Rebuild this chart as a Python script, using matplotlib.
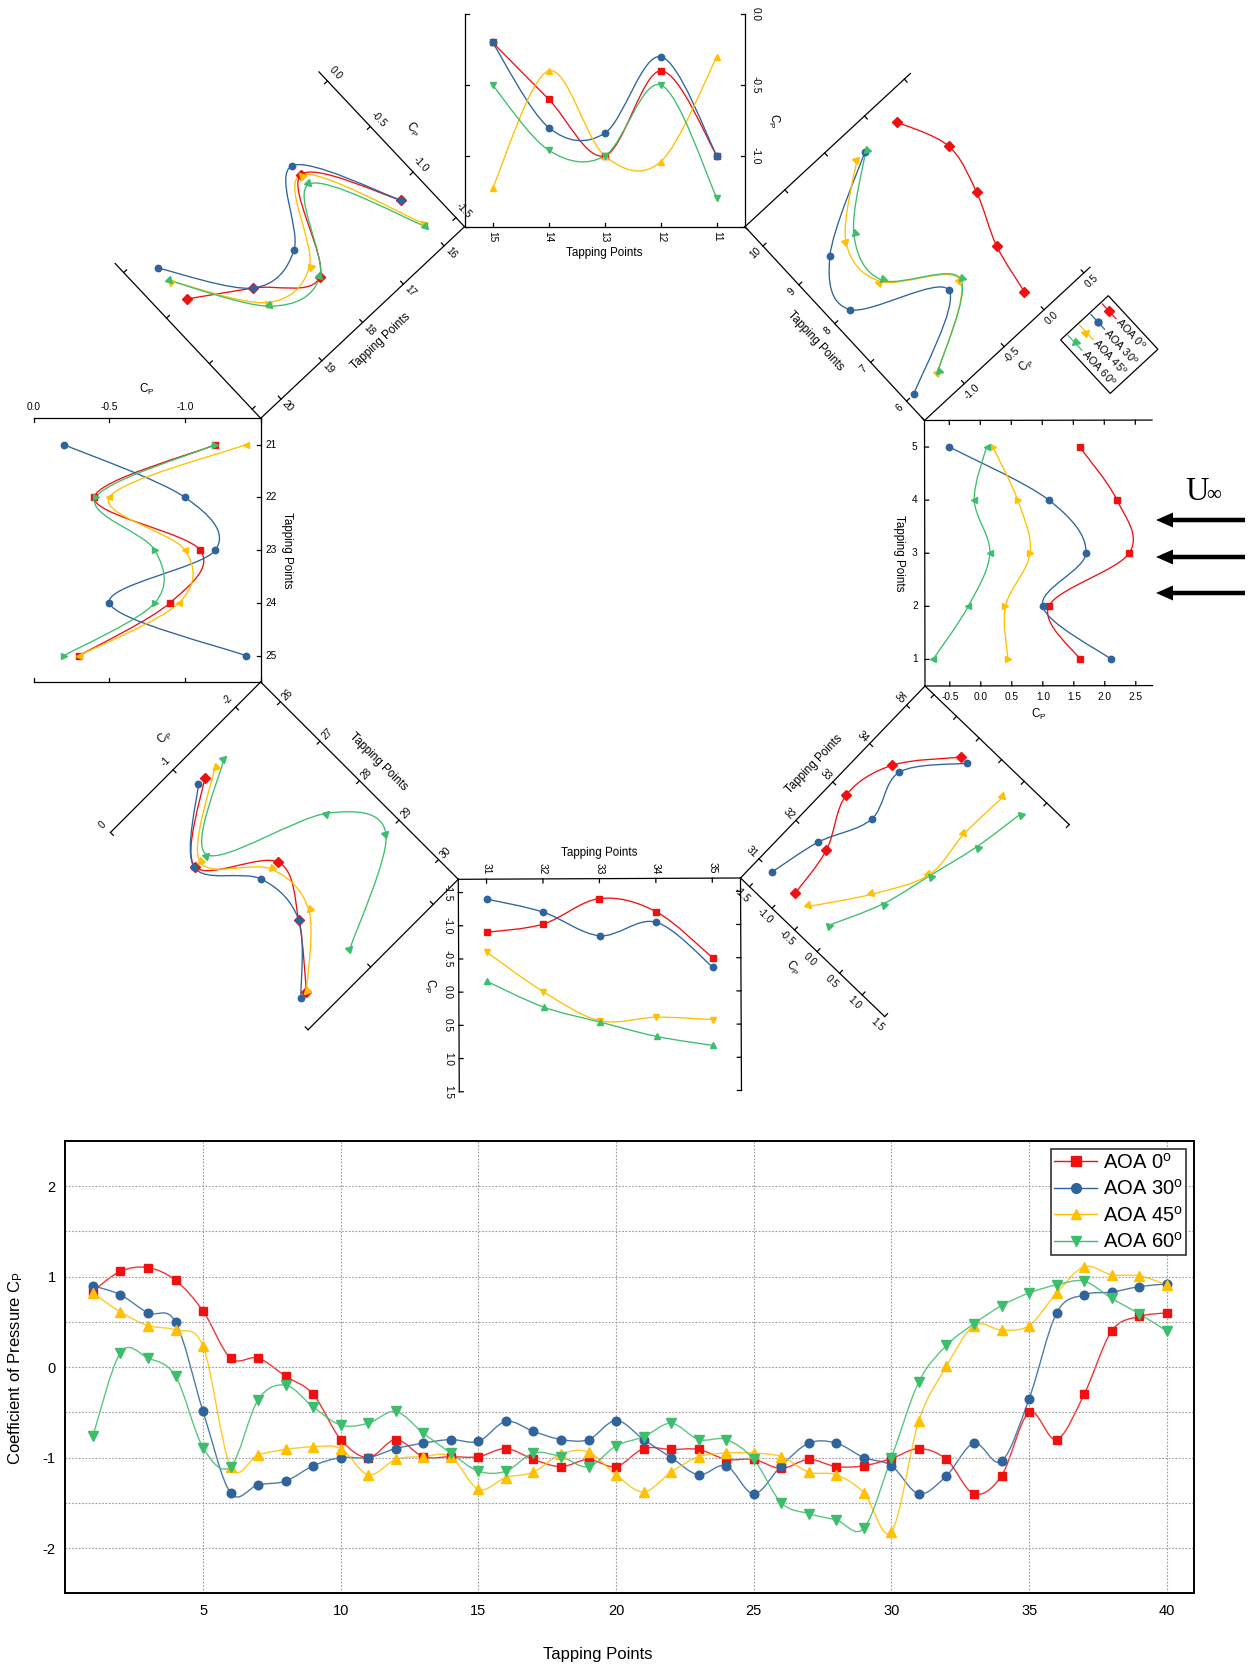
"""Cp around the 40 tapping points: octagon of face plots + full distribution chart."""
import numpy as np
import matplotlib

matplotlib.use("Agg")
import matplotlib.pyplot as plt
from matplotlib.lines import Line2D
from matplotlib.markers import MarkerStyle
from matplotlib.patches import FancyArrow, PathPatch, Polygon
from matplotlib.path import Path
from matplotlib.transforms import Affine2D

plt.rcParams["font.family"] = ["Liberation Sans", "DejaVu Sans"]
plt.rcParams["mathtext.fontset"] = "custom"
plt.rcParams["mathtext.rm"] = "Liberation Sans"
plt.rcParams["mathtext.it"] = "Liberation Sans:italic"
plt.rcParams["axes.unicode_minus"] = False

W, H = 1255, 1666

SERIES = ["AOA 0", "AOA 30", "AOA 45", "AOA 60"]
COLORS = ["#F01010", "#2F639C", "#FFC000", "#3CBE6C"]
MARKERS = ["s", "o", "^", "v"]

# ---- full distribution (bottom chart)
TAPS = np.arange(1, 41)
CP_AOA0 = [0.84, 1.06, 1.10, 0.96, 0.62, 0.10, 0.10, -0.10, -0.30, -0.80,
           -1.00, -0.80, -0.99, -0.99, -0.99, -0.90, -1.02, -1.10, -1.02, -1.10,
           -0.90, -0.91, -0.91, -1.02, -1.02, -1.12, -1.02, -1.10, -1.09, -1.01,
           -0.90, -1.02, -1.40, -1.20, -0.50, -0.80, -0.30, 0.40, 0.56, 0.60]
CP_AOA30 = [0.90, 0.80, 0.60, 0.50, -0.49, -1.39, -1.30, -1.26, -1.09, -1.00,
            -1.00, -0.90, -0.84, -0.80, -0.82, -0.60, -0.71, -0.80, -0.80, -0.59,
            -0.80, -1.00, -1.19, -1.09, -1.40, -1.09, -0.84, -0.84, -1.00, -1.09,
            -1.40, -1.20, -0.84, -1.04, -0.35, 0.60, 0.80, 0.83, 0.89, 0.92]
CP_AOA45 = [0.82, 0.61, 0.46, 0.41, 0.23, -1.10, -0.97, -0.91, -0.88, -0.90,
            -1.19, -1.02, -0.99, -0.99, -1.35, -1.22, -1.16, -0.96, -0.94, -1.19,
            -1.38, -1.16, -0.99, -0.95, -0.95, -0.99, -1.16, -1.19, -1.39, -1.82,
            -0.59, 0.01, 0.46, 0.41, 0.46, 0.82, 1.11, 1.02, 1.01, 0.91]
CP_AOA60 = [-0.76, 0.16, 0.10, -0.10, -0.89, -1.10, -0.36, -0.20, -0.44, -0.64,
            -0.62, -0.49, -0.73, -0.95, -1.15, -1.15, -0.95, -0.99, -1.10, -0.87,
            -0.77, -0.62, -0.80, -0.80, -1.02, -1.50, -1.62, -1.69, -1.78, -1.00,
            -0.16, 0.24, 0.48, 0.68, 0.82, 0.91, 0.95, 0.76, 0.59, 0.40]

# ---- octagon faces, points in the order they sit along each face
F11_TAPS = [15, 14, 13, 12, 11]
F11_AOA0 = [-0.20, -0.60, -1.00, -0.40, -1.00]
F11_AOA30 = [-0.20, -0.80, -0.84, -0.30, -1.00]
F11_AOA45 = [-1.23, -0.40, -1.00, -1.04, -0.30]
F11_AOA60 = [-0.50, -0.96, -1.00, -0.50, -1.30]

F6_TAPS = [10, 9, 8, 7, 6]
F6_AOA0 = [0.18, 0.38, 0.28, 0.08, -0.02]
F6_AOA30 = [-0.22, -1.11, -1.31, -0.52, -1.41]
F6_AOA45 = [-0.32, -0.91, -0.93, -0.38, -1.11]
F6_AOA60 = [-0.21, -0.81, -0.91, -0.37, -1.11]

F1_TAPS = [5, 4, 3, 2, 1]
F1_AOA0 = [1.60, 2.20, 2.40, 1.10, 1.60]
F1_AOA30 = [-0.50, 1.10, 1.70, 1.00, 2.10]
F1_AOA45 = [0.20, 0.60, 0.80, 0.40, 0.44]
F1_AOA60 = [0.10, -0.10, 0.15, -0.20, -0.77]

F31_TAPS = [35, 34, 33, 32, 31]
F31_AOA0 = [-0.50, -1.20, -1.40, -1.02, -0.90]
F31_AOA30 = [-0.36, -1.04, -0.84, -1.20, -1.40]
F31_AOA45 = [0.43, 0.39, 0.44, 0.00, -0.60]
F31_AOA60 = [0.82, 0.68, 0.46, 0.23, -0.16]

F26_TAPS = [30, 29, 28, 27, 26]
F26_AOA0 = [-0.29, -0.80, -1.10, -0.40, -1.19]
F26_AOA30 = [-0.20, -0.80, -0.83, -0.39, -1.09]
F26_AOA45 = [-0.29, -0.96, -0.99, -0.48, -1.35]
F26_AOA60 = [-0.99, -2.19, -1.88, -0.59, -1.50]

F21_TAPS = [25, 24, 23, 22, 21]
F21_AOA0 = [-0.30, -0.90, -1.10, -0.40, -1.20]
F21_AOA30 = [-1.40, -0.50, -1.20, -1.00, -0.20]
F21_AOA45 = [-0.30, -0.96, -1.00, -0.50, -1.40]
F21_AOA60 = [-0.20, -0.80, -0.80, -0.41, -1.20]

F16_TAPS = [20, 19, 18, 17, 16]
F16_AOA0 = [-0.50, -0.80, -1.10, -0.40, -1.10]
F16_AOA30 = [-0.16, -0.80, -0.80, -0.30, -1.10]
F16_AOA45 = [-0.30, -0.96, -0.98, -0.40, -1.35]
F16_AOA60 = [-0.30, -1.00, -1.10, -0.50, -1.39]

# corners of the octagon formed by the tapping axes (canvas pixels)
V = [(464.5, 226.7), (745.0, 226.7), (924.5, 420.5), (925.0, 686.0),
     (740.5, 878.0), (458.3, 879.3), (260.7, 682.0), (260.7, 418.3)]

# taps, series, corner a, corner b, cp at tapping axis, cp at open side,
# px per unit cp, cp ticks, labelled cp ticks, label format
FACES = [
    (F11_TAPS, [F11_AOA0, F11_AOA30, F11_AOA45, F11_AOA60], V[0], V[1],
     -1.5, 0.0, 141.7, [-1.5, -1.0, -0.5, 0.0], [-1.0, -0.5, 0.0], "%.1f"),
    (F6_TAPS, [F6_AOA0, F6_AOA30, F6_AOA45, F6_AOA60], V[1], V[2],
     -1.5, 0.576, 108.6, [-1.5, -1.0, -0.5, 0.0, 0.5], [-1.0, -0.5, 0.0, 0.5], "%.1f"),
    (F1_TAPS, [F1_AOA0, F1_AOA30, F1_AOA45, F1_AOA60], V[2], V[3],
     -0.9, 2.77, 62.0, [-0.5, 0, 0.5, 1, 1.5, 2, 2.5], [-0.5, 0, 0.5, 1, 1.5, 2, 2.5], "%.1f"),
    (F31_TAPS, [F31_AOA0, F31_AOA30, F31_AOA45, F31_AOA60], V[3], V[4],
     -1.7, 1.5, 62.5, [-1.5, -1, -0.5, 0, 0.5, 1, 1.5], [-1.5, -1, -0.5, 0, 0.5, 1, 1.5], "%.1f"),
    (F31_TAPS, [F31_AOA0, F31_AOA30, F31_AOA45, F31_AOA60], V[4], V[5],
     -1.7, 1.5, 66.4, [-1.5, -1, -0.5, 0, 0.5, 1, 1.5], [-1.5, -1, -0.5, 0, 0.5, 1, 1.5], "%.1f"),
    (F26_TAPS, [F26_AOA0, F26_AOA30, F26_AOA45, F26_AOA60], V[5], V[6],
     -2.4, 0.0, 88.6, [-2, -1, 0], [-2, -1, 0], "%d"),
    (F21_TAPS, [F21_AOA0, F21_AOA30, F21_AOA45, F21_AOA60], V[6], V[7],
     -1.5, 0.0, 151.3, [-1.5, -1.0, -0.5, 0.0], [-1.0, -0.5, 0.0], "%.1f"),
    (F16_TAPS, [F16_AOA0, F16_AOA30, F16_AOA45, F16_AOA60], V[7], V[0],
     -1.6, 0.1, 125.0, [-1.5, -1.0, -0.5, 0.0], [-1.5, -1.0, -0.5, 0.0], "%.1f"),
]


def smooth_path(x, y):
    """Catmull-Rom curve through the points, as cubic Bezier segments."""
    pts = np.column_stack([x, y]).astype(float)
    ext = np.vstack([pts[:1], pts, pts[-1:]])
    verts, codes = [pts[0]], [Path.MOVETO]
    for i in range(len(pts) - 1):
        p0, p1, p2, p3 = ext[i:i + 4]
        verts += [p1 + (p2 - p0) / 6, p2 - (p3 - p1) / 6, p2]
        codes += [Path.CURVE4] * 3
    return Path(np.array(verts), codes)


def upright(rot):
    rot = (rot + 180) % 360 - 180
    if rot >= 90:
        rot -= 180
    elif rot < -90:
        rot += 180
    return rot


def frame(a, b):
    a, b = np.array(a, float), np.array(b, float)
    length = np.hypot(*(b - a))
    d = (b - a) / length
    n = np.array([d[1], -d[0]])  # outward normal
    return a, length, d, n, np.degrees(np.arctan2(d[1], d[0]))


def draw_face(cv, taps, data, a, b, c_in, c_out, kc, ticks, labelled, fmt):
    a, length, d, n, theta = frame(a, b)
    nt = len(taps)
    pitch = length / nt
    tr = Affine2D(np.array([
        [d[0] * pitch, n[0] * kc, a[0] - n[0] * kc * c_in],
        [d[1] * pitch, n[1] * kc, a[1] - n[1] * kc * c_in],
        [0.0, 0.0, 1.0]]))
    to_cv = tr + cv.transData
    k = dict(color="black", lw=0.9)
    txt = dict(ha="center", va="center", rotation_mode="anchor")

    cv.plot([0, nt], [c_in, c_in], transform=to_cv, **k)
    cv.plot([0, 0], [c_in, c_out], transform=to_cv, **k)
    cv.plot([nt, nt], [c_in, c_out], transform=to_cv, **k)

    pos = np.arange(nt) + 0.5
    for p, t in zip(pos, taps):
        q = tr.transform((p, c_in))
        cv.plot([q[0], q[0] + 4 * n[0]], [q[1], q[1] + 4 * n[1]], **k)
        q = q - 10 * n
        cv.text(q[0], q[1], str(t), fontsize=7.3, rotation=upright(-90 - theta), **txt)
    q = tr.transform((nt / 2, c_in)) - 26 * n
    cv.text(q[0], q[1], "Tapping Points", fontsize=8.4, rotation=upright(-theta), **txt)

    for c in ticks:
        for x0, sgn in ((0, 1), (nt, -1)):
            q = tr.transform((x0, c))
            cv.plot([q[0], q[0] + sgn * 4 * d[0]], [q[1], q[1] + sgn * 4 * d[1]], **k)
        if np.any(np.isclose(c, labelled)):
            q = tr.transform((nt, c)) + 11 * d
            cv.text(q[0], q[1], fmt % c, fontsize=7.3, rotation=upright(-90 - theta), **txt)
    q = tr.transform((nt, (c_in + c_out) / 2)) + 29 * d
    cv.text(q[0], q[1], r"C$_\mathrm{P}$", fontsize=8.4, rotation=upright(-90 - theta), **txt)

    mk_rot = Affine2D().rotate_deg(-theta)
    for vals, col, m in zip(data, COLORS, MARKERS):
        cv.add_patch(PathPatch(smooth_path(pos, vals), transform=to_cv,
                               fill=False, ec=col, lw=0.95))
        cv.plot(pos, vals, ls="none", marker=MarkerStyle(m, transform=mk_rot),
                ms=4.6, color=col, transform=to_cv)


def draw_face_legend(cv, a, b, corner):
    _, _, d, n, theta = frame(a, b)
    corner = np.array(corner)

    def at(x, y):
        return corner + x * d - y * n

    cv.add_patch(Polygon([at(0, 0), at(73, 0), at(73, 65), at(0, 65)],
                         closed=True, fill=False, ec="black", lw=0.9))
    mk_rot = Affine2D().rotate_deg(-theta)
    for i, (name, col, m) in enumerate(zip(SERIES, COLORS, MARKERS)):
        y = 10 + 15.5 * i
        p0, p1, pm, pt = at(2, y), at(22, y), at(12, y), at(24, y)
        cv.plot([p0[0], p1[0]], [p0[1], p1[1]], color=col, lw=0.9)
        cv.plot(pm[0], pm[1], marker=MarkerStyle(m, transform=mk_rot), ms=5, color=col)
        cv.text(pt[0], pt[1], name + r"$^\mathrm{o}$", fontsize=7.8, rotation=-theta,
                rotation_mode="anchor", ha="left", va="center")


fig = plt.figure(figsize=(W / 100, H / 100), dpi=100)

cv = fig.add_axes([0, 0, 1, 1])
cv.set_autoscale_on(False)
cv.set_xlim(0, W)
cv.set_ylim(H, 0)
cv.axis("off")

for face in FACES:
    draw_face(cv, *face)
draw_face_legend(cv, V[1], V[2], (1108.3, 295.7))

# free-stream marker
for y in (520, 557, 593):
    cv.add_patch(FancyArrow(1245, y, -89, 0, width=4.5, head_width=15, head_length=17,
                            length_includes_head=True, color="black", lw=0))
serif = ["Liberation Serif", "DejaVu Serif"]
cv.text(1185, 500, "U", family=serif, fontsize=23.5, ha="left", va="baseline")
cv.text(1206, 500, "\u221e", family=serif, fontsize=15, ha="left", va="baseline")

# ---- bottom chart
ax = fig.add_axes([65.4 / W, 1 - 1593.3 / H, 1128.9 / W, 452.3 / H])
for vals, col, m in zip([CP_AOA0, CP_AOA30, CP_AOA45, CP_AOA60], COLORS, MARKERS):
    ax.add_patch(PathPatch(smooth_path(TAPS, vals), fill=False, ec=col, lw=1.0, alpha=0.85))
    ax.plot(TAPS, vals, ls="none", marker=m, ms=6.2 if m in "so" else 6.8, color=col)
ax.set_xlim(0, 41)
ax.set_ylim(-2.5, 2.5)
ax.set_xticks(range(5, 41, 5))
ax.set_yticks([-2, -1, 0, 1, 2])
ax.set_yticks([-1.5, -0.5, 0.5, 1.5], minor=True)
ax.grid(which="both", ls=(0, (1.5, 1.5)), color="#9a9a9a", lw=0.8)
ax.tick_params(which="both", length=0, labelsize=10.5)
ax.tick_params(axis="x", pad=8)
ax.tick_params(axis="y", pad=7)
for sp in ax.spines.values():
    sp.set_linewidth(1.4)

handles = [Line2D([], [], color=c, marker=m, lw=1.0, ms=7) for c, m in zip(COLORS, MARKERS)]
leg = ax.legend(handles, [s + r"$^\mathrm{o}$" for s in SERIES], loc="upper left",
                bbox_to_anchor=(0.8734, 0.9816), fontsize=14.5, fancybox=False,
                borderpad=0.15, handlelength=2.1, handletextpad=0.3,
                labelspacing=0.32, borderaxespad=0, framealpha=1)
leg.get_frame().set_edgecolor("#333333")
leg.get_frame().set_linewidth(1.2)

fig.text(598 / W, 1 - 1654 / H, "Tapping Points", fontsize=12, ha="center", va="center")
fig.text(16 / W, 1 - 1368 / H, r"Coefficient of Pressure C$_\mathrm{P}$", fontsize=12,
         rotation=90, ha="center", va="center")

fig.savefig("out.png", dpi=100)
